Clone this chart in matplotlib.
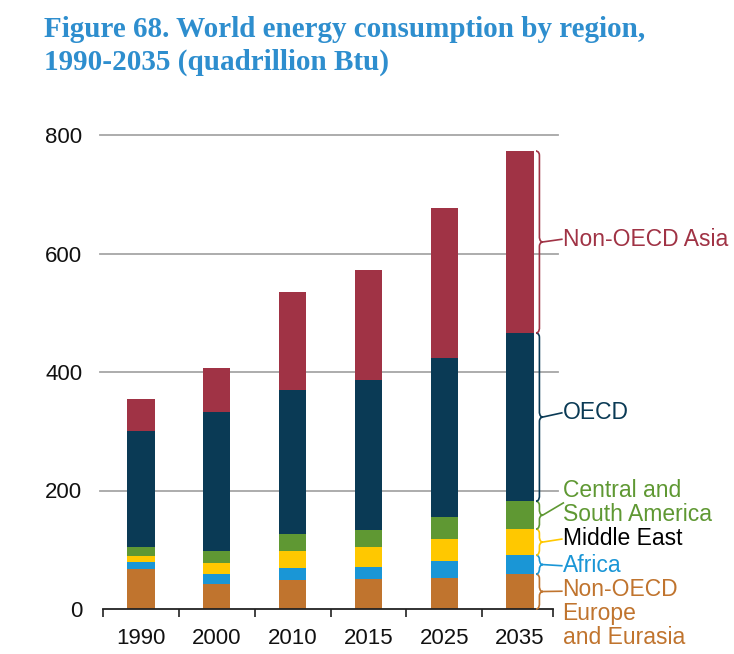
import matplotlib
matplotlib.use("Agg")
import matplotlib.pyplot as plt
from matplotlib.path import Path
from matplotlib.patches import PathPatch
import numpy as np

years = ["1990", "2000", "2010", "2015", "2025", "2035"]
eurasia = [67, 42, 49, 51, 52, 59]
africa = [12, 17, 20, 20, 29, 32]
middle_east = [10, 19, 29, 34, 37, 44]
cs_america = [16, 20, 29, 28, 37, 47]
oecd = [195, 234, 243, 253, 269, 284]
asia = [54, 75, 165, 186, 253, 307]

series = [
    ("Non-OECD\nEurope\nand Eurasia", eurasia, "#C0742E"),
    ("Africa", africa, "#1A96D6"),
    ("Middle East", middle_east, "#FFC800"),
    ("Central and\nSouth America", cs_america, "#5F9833"),
    ("OECD", oecd, "#0A3A55"),
    ("Non-OECD Asia", asia, "#A03345"),
]
label_colors = ["#C0742E", "#1A96D6", "#000000", "#5F9833", "#0A3A55", "#A03345"]
yticks = [0, 200, 400, 600, 800]

W, H = 734, 654
fig = plt.figure(figsize=(W / 100, H / 100), dpi=100)
ax = fig.add_axes([103 / W, 1 - 609 / H, (558 - 103) / W, (609 - 135) / H])

x = np.arange(len(years))
bw = 0.36
bottom = np.zeros(len(years))
for name, vals, col in series:
    ax.bar(x, vals, bw, bottom=bottom, color=col, zorder=3, linewidth=0)
    bottom += np.array(vals)

ax.set_xlim(-0.5, 5.5)
ax.set_ylim(0, 800)
ax.set_yticks(yticks)
ax.set_yticklabels([str(v) for v in yticks], fontsize=16, family="Liberation Sans",
                   color="#111111")
ax.tick_params(axis="y", length=0, pad=15)
for v in yticks[1:]:
    ax.axhline(v, color="#A6A6A6", lw=1.3, zorder=1, xmin=-0.007, clip_on=False)

ax.set_xticks(x)
ax.set_xticklabels(years, fontsize=16, family="Liberation Sans", color="#111111")
ax.tick_params(axis="x", length=0, pad=14)
ax.set_xticks(np.arange(-0.5, 5.6, 1) - np.array([0, 0, 0, 0, 0, 0, 0.06]), minor=True)
ax.tick_params(axis="x", which="minor", length=6, width=1.2, direction="out", color="#222222")

for s in ["top", "right", "left"]:
    ax.spines[s].set_visible(False)
ax.spines["bottom"].set_color("#222222")
ax.spines["bottom"].set_linewidth(1.3)
ax.spines["bottom"].set_zorder(4)
ax.spines["bottom"].set_bounds(-0.5, 5.44)


def brace(ax, x0, y0, y1, w, color):
    ym = (y0 + y1) / 2
    d = min(8, (y1 - y0) / 4)
    xm = x0 + w * 0.5
    verts = [
        (x0, y0), (xm, y0), (xm, y0 + d), (xm, y0 + d),
        (xm, ym - d),
        (xm, ym), (x0 + w, ym), (x0 + w, ym),
        (xm, ym), (xm, ym + d), (xm, ym + d),
        (xm, y1 - d),
        (xm, y1), (x0, y1), (x0, y1),
    ]
    codes = [Path.MOVETO, Path.CURVE4, Path.CURVE4, Path.CURVE4,
             Path.LINETO,
             Path.CURVE4, Path.CURVE4, Path.CURVE4,
             Path.CURVE4, Path.CURVE4, Path.CURVE4,
             Path.LINETO,
             Path.CURVE4, Path.CURVE4, Path.CURVE4]
    p = PathPatch(Path(verts, codes), fill=False, edgecolor=color, lw=1.2,
                  clip_on=False, zorder=5)
    ax.add_patch(p)
    return ym


last = len(years) - 1
bx = last + bw / 2 + 0.03
bw_br = 0.09
cum = 0
# (text y, leader end x, leader end y)
label_pos = [(-8, 5.55, 30), (74, 5.55, 73), (119, 5.55, 118),
             (179, 5.57, 179), (331, 5.55, 331), (624, 5.55, 624)]
for i, (name, vals, col) in enumerate(series):
    y0 = cum
    y1 = cum + vals[last]
    cum = y1
    ym = brace(ax, bx, y0, y1, bw_br, col)
    ty, lx, ly = label_pos[i]
    ax.plot([bx + bw_br, lx], [ym, ly], color=col, lw=1.2, clip_on=False, zorder=5)
    ax.text(5.56, ty, name, color=label_colors[i], fontsize=16.5, family="Liberation Sans",
            va="center", ha="left", clip_on=False, linespacing=1.05)

title_kw = dict(fontsize=21, family="Liberation Serif", fontweight="bold",
                color="#2E8ECE", va="baseline", ha="left")
fig.text(44 / W, 1 - 37 / H, "Figure 68. World energy consumption by region,", **title_kw)
fig.text(44 / W, 1 - 70 / H, "1990-2035 (quadrillion Btu)", **title_kw)

fig.savefig("out.png", dpi=100)
